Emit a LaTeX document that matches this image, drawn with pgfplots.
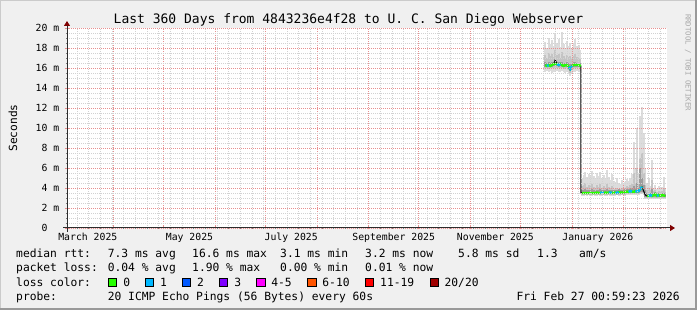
\documentclass[border=0pt]{standalone}
\usepackage{fontspec}
\setmainfont{DejaVu Sans Mono}
\setmonofont{DejaVu Sans Mono}
\usepackage{pgfplots}
\pgfplotsset{compat=1.18}
\usepackage{pgfplotstable}
\usetikzlibrary{arrows.meta}

\definecolor{bgcol}{HTML}{F0F0F0}
\definecolor{shadeA}{HTML}{CBCBCB}
\definecolor{shadeB}{HTML}{999999}
\definecolor{mgrid}{HTML}{E89090}
\definecolor{mingrid}{HTML}{D2D2D2}
\definecolor{axiscol}{HTML}{2C2C2C}
\definecolor{arrowcol}{HTML}{7F0000}
\definecolor{smokeA}{HTML}{DCDCDC}
\definecolor{smokeB}{HTML}{C4C4C4}
\definecolor{smokeC}{HTML}{9C9C9C}
\definecolor{wm}{HTML}{A8A8A8}
\definecolor{lc0}{HTML}{26FF00}
\definecolor{lc1}{HTML}{00B8FF}
\definecolor{lc2}{HTML}{0059FF}
\definecolor{lc3}{HTML}{7E00FF}
\definecolor{lc4}{HTML}{FF00FF}
\definecolor{lc6}{HTML}{FF5500}
\definecolor{lc11}{HTML}{FF0000}
\definecolor{lc20}{HTML}{A00000}

% smoke layers: day index (0 = 1 Mar 2025), lo/hi of three bands (ms)
\pgfplotstableread{
d alo ahi blo bhi clo chi
290 15.6 18.6 16.0 17.3 16.1 16.6
291 15.7 18.0 16.0 17.0 16.1 16.5
292 15.6 19.0 15.9 17.5 16.1 16.6
293 15.7 18.4 16.0 17.2 16.1 16.5
294 15.5 18.8 16.0 17.4 16.1 16.6
295 15.6 18.2 16.0 17.1 16.2 16.6
296 15.6 19.5 16.1 17.8 16.2 16.9
297 15.7 18.5 16.0 17.3 16.2 16.6
298 15.6 18.9 16.0 17.4 16.1 16.6
299 15.6 18.1 16.0 17.0 16.2 16.6
300 15.7 19.6 16.0 17.6 16.1 16.6
301 15.6 18.4 16.0 17.2 16.1 16.5
302 15.5 18.0 15.9 17.0 16.1 16.5
303 15.6 18.7 16.0 17.3 16.1 16.6
304 15.4 18.2 15.8 17.1 15.9 16.5
305 15.2 18.5 15.5 17.2 15.7 16.4
306 15.5 18.0 15.9 17.0 16.0 16.5
307 15.6 18.4 16.0 17.2 16.1 16.6
308 15.6 18.9 16.0 17.4 16.1 16.6
309 15.7 18.2 16.0 17.1 16.1 16.5
310 15.6 18.3 16.0 17.0 16.1 16.5
311 15.7 17.8 16.0 16.9 16.1 16.5
312 3.2 5.0 3.3 4.2 3.4 3.8
313 3.2 5.3 3.3 4.3 3.4 3.8
314 3.3 5.6 3.3 4.5 3.4 3.9
315 3.2 5.1 3.3 4.1 3.4 3.8
316 3.3 5.4 3.3 4.3 3.4 3.8
317 3.2 5.2 3.3 4.2 3.4 3.8
318 3.2 5.7 3.3 4.4 3.4 3.9
319 3.3 5.2 3.3 4.1 3.4 3.8
320 3.2 5.0 3.3 4.0 3.4 3.7
321 3.2 5.5 3.3 4.3 3.4 3.8
322 3.3 5.2 3.3 4.1 3.4 3.8
323 3.2 5.6 3.3 4.4 3.4 3.9
324 3.2 5.0 3.3 4.0 3.4 3.8
325 3.3 5.3 3.3 4.2 3.4 3.8
326 3.2 4.9 3.3 4.0 3.4 3.8
327 3.2 5.8 3.3 4.4 3.4 3.9
328 3.3 5.1 3.3 4.1 3.4 3.8
329 3.2 4.8 3.3 4.0 3.4 3.8
330 3.2 5.4 3.3 4.2 3.4 3.8
331 3.2 4.7 3.3 3.9 3.4 3.8
332 3.2 4.6 3.3 3.9 3.4 3.8
333 3.3 5.0 3.3 4.0 3.4 3.8
334 3.2 4.5 3.3 3.9 3.4 3.9
335 3.2 4.4 3.3 3.9 3.4 3.8
336 3.3 4.8 3.3 4.0 3.4 3.8
337 3.2 4.5 3.3 3.9 3.4 3.9
338 3.3 4.6 3.3 4.0 3.4 3.9
339 3.3 4.9 3.4 4.2 3.5 3.9
340 3.3 4.7 3.4 4.1 3.5 3.9
341 3.3 5.0 3.4 4.3 3.5 4.0
342 3.3 5.4 3.4 4.4 3.5 4.0
343 3.3 8.6 3.4 5.5 3.5 4.2
344 3.3 6.0 3.4 4.5 3.5 4.0
345 3.3 10.0 3.4 6.0 3.5 4.5
346 3.3 5.5 3.4 4.4 3.5 4.0
347 3.4 11.2 3.5 7.0 3.6 6.0
348 3.4 12.1 3.5 7.5 3.6 5.0
349 3.3 9.5 3.4 5.5 3.5 4.3
350 2.9 6.0 3.0 4.3 3.1 3.8
351 2.9 4.5 3.0 3.8 3.1 3.5
352 2.9 5.0 3.0 4.0 3.1 3.5
353 2.9 4.2 3.0 3.8 3.1 3.5
354 2.9 6.8 3.0 4.8 3.1 3.9
355 2.9 4.0 3.0 3.7 3.1 3.5
356 2.9 4.3 3.0 3.8 3.1 3.6
357 2.9 3.9 3.0 3.6 3.1 3.4
358 2.9 4.2 3.0 3.7 3.1 3.5
359 2.9 4.0 3.0 3.6 3.1 3.4
360 2.9 4.1 3.0 3.7 3.1 3.5
361 2.9 5.1 3.0 4.0 3.1 3.5
362 2.9 4.0 3.0 3.6 3.1 3.4
}\smoke

% median rtt (ms): m = full line, g = part with 0 loss, b = part with 1 loss
\pgfplotstableread{
d m g b
290 16.3 16.3 nan
291 16.2 16.2 16.2
292 16.3 16.3 16.3
293 16.2 16.2 nan
294 16.3 16.3 nan
295 16.4 16.4 nan
296 16.8 16.4 nan
297 16.4 16.4 16.4
298 16.3 16.3 16.3
299 16.4 16.4 16.4
300 16.3 16.3 nan
301 16.2 16.2 nan
302 16.3 16.3 nan
303 16.3 16.3 nan
304 16.1 16.1 16.1
305 15.8 15.9 15.9
306 16.2 16.2 16.2
307 16.3 16.3 nan
308 16.3 16.3 nan
309 16.3 16.3 nan
310 16.3 16.3 nan
311.3 16.2 16.2 nan
311.3 3.5 nan nan
312 3.5 3.5 nan
313 3.5 3.5 nan
314 3.5 3.5 nan
315 3.5 3.5 nan
316 3.5 3.5 nan
317 3.5 3.5 nan
318 3.5 3.5 nan
319 3.5 3.5 nan
320 3.5 3.5 nan
321 3.55 3.55 nan
322 3.5 3.5 nan
323 3.5 3.5 3.5
324 3.55 3.55 3.55
325 3.5 3.5 3.5
326 3.55 3.55 nan
327 3.5 3.5 nan
328 3.55 3.55 3.55
329 3.55 3.55 3.55
330 3.5 3.5 3.5
331 3.55 3.55 nan
332 3.55 3.55 3.55
333 3.5 3.5 3.5
334 3.6 3.6 3.6
335 3.55 3.55 nan
336 3.55 3.55 nan
337 3.6 3.6 nan
338 3.6 3.6 nan
339 3.65 3.65 nan
340 3.6 3.6 3.6
341 3.7 3.7 3.7
342 3.65 3.65 3.65
343 3.6 3.6 nan
344 3.7 3.7 3.7
345 3.65 3.65 3.65
346 3.7 3.7 3.7
347 3.9 3.9 3.9
348 4.1 4.1 4.1
349 3.7 nan nan
350 3.3 nan nan
351 3.2 3.2 nan
352 3.2 3.2 3.2
353 3.3 3.3 3.3
354 3.2 3.2 3.2
355 3.3 3.3 nan
356 3.4 3.4 nan
357 3.2 3.2 3.2
358 3.3 3.3 3.3
359 3.2 3.2 nan
360 3.3 3.3 nan
361 3.25 3.25 nan
362 3.2 3.2 nan
}\med

\begin{document}
\begin{tikzpicture}[x=1pt,y=1pt]
\fill[bgcol] (0,0) rectangle (697,310);
\fill[shadeA] (0,309) rectangle (697,310);
\fill[shadeA] (0,0) rectangle (1,310);
\fill[shadeB] (0,0) rectangle (697,2);
\fill[shadeB] (695,0) rectangle (697,310);

\begin{axis}[
  at={(67pt,82pt)}, anchor=south west,
  scale only axis, width=600pt, height=200pt,
  xmin=3, xmax=363, ymin=0, ymax=20,
  axis background/.style={fill=white},
  axis line style={draw=none},
  axis on top,
  unbounded coords=jump,
  xtick={31,61,92,122,153,184,214,245,275,306,337},
  xticklabels={,,,,,,,,,,},
  minor xtick={9,16,...,359},
  ytick={0,2,...,20},
  yticklabels={0\phantom{ m},2 m,4 m,6 m,8 m,10 m,12 m,14 m,16 m,18 m,20 m},
  minor ytick={0.5,1,1.5,2.5,3,3.5,4.5,5,5.5,6.5,7,7.5,8.5,9,9.5,10.5,11,11.5,12.5,13,13.5,14.5,15,15.5,16.5,17,17.5,18.5,19,19.5},
  grid=both,
  major grid style={draw=mgrid, dash pattern=on 1pt off 1pt, line width=0.8pt},
  minor grid style={draw=mingrid, dash pattern=on 1pt off 1pt, line width=0.8pt},
  tick pos=left,
  tick align=center,
  major tick length=3pt, minor tick length=2pt,
  major tick style={draw=mgrid, line width=0.8pt},
  minor tick style={draw=gray, line width=0.6pt},
  extra x ticks={15.5,76.5,137.5,199,260,321.5},
  extra x tick labels={March 2025,May 2025,July 2025,September 2025,November 2025,January 2026},
  extra x tick style={grid=none, major tick length=0pt},
  xticklabel style={font=\fontsize{9.8}{11}\selectfont, anchor=base, yshift=-13pt, inner sep=0pt},
  yticklabel style={font=\fontsize{9.8}{11}\selectfont, anchor=east, inner sep=0pt, xshift=-6pt},
]
\addplot[draw=none, mark=none, forget plot, error bars/.cd, y dir=plus, y explicit, error mark=none,
  error bar style={draw=smokeA, line width=1.75pt}]
  table[x=d, y=alo, y error expr=\thisrow{ahi}-\thisrow{alo}] {\smoke};
\addplot[draw=none, mark=none, forget plot, error bars/.cd, y dir=plus, y explicit, error mark=none,
  error bar style={draw=smokeB, line width=1.75pt}]
  table[x=d, y=blo, y error expr=\thisrow{bhi}-\thisrow{blo}] {\smoke};
\addplot[draw=none, mark=none, forget plot, error bars/.cd, y dir=plus, y explicit, error mark=none,
  error bar style={draw=smokeC, line width=1.75pt}]
  table[x=d, y=clo, y error expr=\thisrow{chi}-\thisrow{clo}] {\smoke};
\addplot[black, line width=1pt, mark=none] table[x=d, y=m] {\med};
\addplot[lc0, line width=2.3pt, mark=none] table[x=d, y=g] {\med};
\addplot[lc1, line width=2.3pt, mark=none] table[x=d, y=b] {\med};
\end{axis}

\draw[axiscol, line width=1pt, -{Triangle[length=5pt, width=6pt, color=arrowcol]}] (63,82) -- (675,82);
\draw[axiscol, line width=1pt, -{Triangle[length=5pt, width=6pt, color=arrowcol]}] (67,78) -- (67,289);

\node[font=\fontsize{13}{15}\selectfont, inner sep=0pt] at (348.5,290.5) {Last 360 Days from 4843236e4f28 to U. C. San Diego Webserver};
\node[rotate=90, font=\fontsize{11.2}{13}\selectfont, inner sep=0pt] at (13,182) {Seconds};
\node[rotate=-90, anchor=west, font=\fontsize{7.3}{8}\selectfont, text=wm, inner sep=0pt] at (688,296) {RRDTOOL / TOBI OETIKER};

\tikzset{lg/.style={anchor=base west, inner sep=0pt, font=\fontsize{11.3}{13}\selectfont}}
% line 1
\node[lg] at (16,52) {median rtt:};
\node[lg] at (107.6,52) {7.3 ms avg};
\node[lg] at (192,52) {16.6 ms max};
\node[lg] at (280,52) {3.1 ms min};
\node[lg] at (365,52) {3.2 ms now};
\node[lg] at (458,52) {5.8 ms sd};
\node[lg] at (537,52) {1.3};
\node[lg] at (579,52) {am/s};
% line 2
\node[lg] at (16,38) {packet loss:};
\node[lg] at (107.6,38) {0.04 \% avg};
\node[lg] at (192,38) {1.90 \% max};
\node[lg] at (280,38) {0.00 \% min};
\node[lg] at (365,38) {0.01 \% now};
% line 3
\node[lg] at (16,23.5) {loss color:};
\foreach \xx/\cc/\tt/\tx in {108/lc0/0/123.1, 145.3/lc1/1/160, 182.2/lc2/2/196.9, 219.1/lc3/3/234.2, 256.4/lc4/4-5/271.1, 307.6/lc6/6-10/322.2, 365.3/lc11/11-19/380, 430.2/lc20/20\slash 20/444.4}{
  \filldraw[fill=\cc, draw=black, line width=0.8pt] (\xx,23.5) rectangle ++(8.5,8.5);
  \node[lg] at (\tx,23.5) {\tt};
}
% line 4
\node[lg] at (16,9.5) {probe:};
\node[lg] at (107.6,9.5) {20 ICMP Echo Pings (56 Bytes) every 60s};
\node[anchor=base east, inner sep=0pt, font=\fontsize{11.3}{13}\selectfont] at (680,9.5) {Fri Feb 27 00:59:23 2026};
\end{tikzpicture}
\end{document}
